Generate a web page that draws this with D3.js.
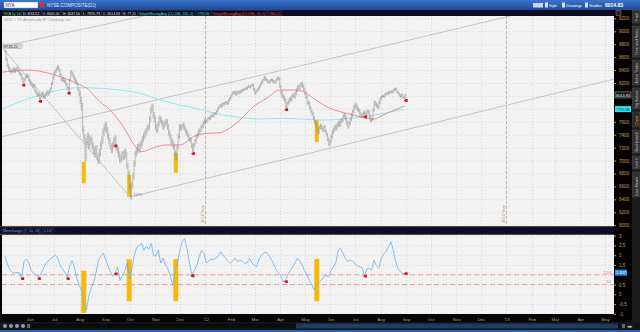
<!DOCTYPE html>
<html>
<head>
<meta charset="utf-8">
<script src="https://cdn.jsdelivr.net/npm/d3@7"></script>
<style>
  body { margin: 0; background: #000; }
  svg { display: block; font-family: "Liberation Sans", Arial, sans-serif; }
</style>
</head>
<body>
<svg id="chart" width="640" height="332"></svg>
<script>
// ---------------- data ----------------
var firstDay = new Date(2011, 4, 2);
var lastDay = new Date(2012, 7, 31);

// daily closes of NYA, 2 May 2011 .. 31 Aug 2012
var closes = [
  8680,8560,8470,8430,8400,8370,8390,8420,8380,8405,
  8430,8390,8350,8330,8270,8215,8250,8290,8320,8300,
  8240,8200,8170,8140,8160,8090,8050,8010,8030,7965,
  8000,8040,7990,7985,8020,8060,8030,8070,8110,8190,
  8280,8350,8380,8420,8450,8400,8330,8250,8270,8240,
  8220,8180,8130,8090,8250,8370,8340,8300,8260,8230,
  8190,8100,8020,7930,7830,7480,7350,7050,7290,7370,
  7240,7330,7300,7220,7160,7110,7180,7060,7010,7120,
  7230,7320,7440,7500,7550,7470,7380,7300,7220,7165,
  7240,7300,7340,7200,7160,7090,7010,7040,7100,7060,
  7130,7090,6920,6800,6600,6450,6620,6760,6950,7110,
  7150,7210,7170,7240,7270,7330,7380,7420,7460,7500,
  7520,7640,7780,7830,7700,7640,7520,7470,7560,7650,
  7620,7580,7520,7560,7590,7600,7520,7430,7370,7300,
  7260,7210,7120,7050,7200,7380,7520,7500,7530,7550,
  7500,7460,7420,7380,7330,7310,7230,7165,7240,7300,
  7370,7400,7440,7470,7510,7540,7580,7620,7600,7630,
  7660,7650,7680,7700,7690,7730,7720,7760,7800,7830,
  7860,7840,7880,7870,7890,7900,7880,7930,7960,8000,
  8030,8060,8050,8020,8060,8040,8070,8060,8080,8090,
  8100,8120,8110,8140,8150,8130,8160,8170,8100,8040,
  8070,8090,8120,8150,8190,8220,8250,8290,8260,8240,
  8220,8210,8240,8250,8230,8210,8220,8250,8280,8260,
  8140,8050,8000,7970,7940,7840,7880,7910,7950,7940,
  7990,8010,7990,8040,8090,8140,8120,8170,8190,8150,
  8100,8040,7980,7900,7880,7820,7760,7720,7660,7600,
  7560,7480,7440,7510,7540,7500,7470,7520,7450,7400,
  7330,7250,7300,7370,7440,7480,7520,7500,7550,7580,
  7560,7610,7630,7680,7700,7650,7580,7530,7580,7640,
  7700,7760,7820,7860,7830,7790,7770,7720,7690,7700,
  7740,7730,7700,7760,7750,7680,7620,7640,7780,7900,
  7870,7850,7830,7900,7950,7990,8000,7990,8020,8040,
  8030,8060,8050,8070,8060,8090,8110,8100,8060,8040,
  8010,7990,8020,7980,7970,8014.83
];
var firstHigh = 8718.25;
// typical intraday wick per month, May 2011 .. Aug 2012
var monthWick = [25, 25, 25, 60, 50, 50, 45, 35, 20, 18, 20, 30, 30, 35, 30, 18];

// moving averages, [bar index, value]
var sma200 = [[-4, 7782], [12.6, 7911], [29.4, 8014], [46.1, 8091], [62.8, 8127], [79.6, 8117],
  [96.3, 8091], [113.1, 8040], [129.8, 7937], [146.5, 7860], [163.3, 7792], [180, 7712],
  [196.7, 7669], [213.5, 7643], [230.2, 7653], [246.9, 7643], [263.7, 7627], [280.4, 7638],
  [297.2, 7669], [313.9, 7720], [334.2, 7795.86]];
var sma50 = [[-4, 8364], [21, 8400], [29.4, 8380], [46.1, 8297], [60.1, 8194], [68.5, 8117],
  [79.6, 7911], [88, 7782], [99.1, 7524], [107.4, 7266], [114.5, 7137], [127, 7215],
  [135.4, 7241], [146.5, 7241], [157.7, 7369], [168.9, 7421], [180, 7430], [185.6, 7473],
  [196.7, 7627], [207.9, 7833], [219.1, 7963], [230.2, 8091], [241.3, 8091], [249.7, 8065],
  [258.1, 7963], [269.3, 7833], [280.4, 7756], [291.6, 7705], [302.8, 7653], [308.3, 7640],
  [316.7, 7705], [325, 7772], [334.2, 7843]];

// momentum gauge, one value every second bar
var momentum = [
  1.95,1.55,1.25,1.12,1.08,1.12,1.10,0.85,1.70,1.80,
  1.60,1.20,1.08,1.00,0.85,1.05,1.30,1.55,1.70,1.82,
  1.90,2.02,1.85,1.50,1.30,1.12,0.85,1.45,1.72,1.40,
  0.80,0.45,0.20,-0.45,-0.80,-0.10,0.30,0.60,1.10,1.75,
  1.95,2.10,1.80,1.45,1.15,0.92,1.10,1.40,0.70,0.95,
  1.20,1.60,0.80,1.35,2.00,2.40,2.50,2.60,2.25,2.45,
  2.30,2.60,2.00,1.95,2.25,1.60,1.85,1.50,1.30,0.95,
  0.45,1.20,1.65,2.25,2.70,2.85,2.30,1.60,1.00,1.20,
  1.45,1.90,2.25,2.10,1.60,1.70,1.80,1.75,1.85,1.95,
  2.17,2.00,1.85,1.70,1.58,1.70,1.85,1.66,1.75,1.70,
  1.60,1.60,1.84,1.60,1.50,1.40,1.80,2.00,2.10,2.17,
  2.00,1.80,1.58,1.30,1.10,1.00,0.64,0.70,0.98,1.20,
  1.40,1.60,1.84,1.70,1.50,1.20,0.98,0.73,0.50,0.22,
  0.45,0.60,0.73,0.90,0.95,0.90,1.20,1.40,1.60,2.25,
  2.35,2.10,1.84,1.66,1.75,1.70,1.58,1.45,1.41,1.35,
  0.98,1.30,1.33,1.24,1.75,1.45,1.33,1.84,2.05,2.20,
  2.43,2.68,2.26,1.66,1.30,1.15,1.05,1.107
];
var momLevels = [1.0, 0.5];
var momLevelText = ["1.00", ".50"];

// drawings: [bar index, value, bar index, value]
var trendLines = [
  [-1, 8718, 105, 6430],
  [0, 8772, 116, 9236],
  [-4, 7364, 423, 9236],
  [104.7, 6437, 510, 8262]
];

var signalIdx = [15, 29, 53, 92, 157, 235, 301, 335];
var eventIdx = [66, 104, 143, 261];
var eventPxTop = [6980, 6780, 7120, 7630];
var eventPxBot = [6650, 6440, 6810, 7290];
var eventMomTop = [1.2, 1.8, 1.8, 1.8];
var eventMomBot = [-0.95, -0.35, -0.35, -0.35];

var priceTicks = d3.range(6000, 9201, 200);
var momTicks = [3, 2.5, 2, 1.5, 1, 0.5, 0, -0.5, -1];
var sideTabs = ["Trade", "Time and Sales", "Active Trader", "Big Buttons", "Chart", "Dashboard", "Level II", "Live News"];

// ---------------- layout ----------------
var plotL = 2, plotR = 614;
var mainT = 16, mainB = 226, lowT = 235, lowB = 314;
var gold = "#c39a5a";

var svg = d3.select("#chart");

var x = d3.scaleTime()
  .domain([new Date(2011, 3, 26), new Date(2013, 4, 12)])
  .range([0, plotR]);
var xi = d3.scaleLinear().domain([0, closes.length - 1]).range([x(firstDay), x(lastDay)]);
var xm = d3.scaleLinear().domain([0, momentum.length - 1]).range([x(firstDay), x(lastDay)]);
var yP = d3.scaleLinear().domain([5988, 9236]).range([mainB, mainT]);
var yM = d3.scaleLinear().domain([-1.005, 3.03]).range([lowB, lowT]);

var months = d3.timeMonth.range(new Date(2011, 5, 1), new Date(2013, 4, 2));

// shrink a label's font until it fits its box
function fitText(sel, maxW, size) {
  sel.attr("font-size", size);
  var w = sel.node().getComputedTextLength();
  if (w > maxW) sel.attr("font-size", size * maxW / w);
  return sel;
}

// window chrome
var topGrad = svg.append("defs").append("linearGradient")
  .attr("id", "topgrad").attr("x1", "0%").attr("x2", "0%").attr("y1", "0%").attr("y2", "100%");
topGrad.append("stop").attr("offset", "0%").style("stop-color", "#3a74cc");
topGrad.append("stop").attr("offset", "100%").style("stop-color", "#1d4a99");

svg.append("rect").attr("width", 640).attr("height", 332).attr("fill", "#050505");
svg.append("rect").attr("width", 640).attr("height", 10).attr("fill", "url(#topgrad)");
svg.append("rect").attr("x", 0).attr("y", 330).attr("width", 640).attr("height", 2).attr("fill", "#2a62b8");

svg.append("rect").attr("x", 4).attr("y", 2).attr("width", 34).attr("height", 6).attr("fill", "#fff").attr("stroke", "#888").attr("stroke-width", 0.5);
svg.append("text").attr("x", 5.5).attr("y", 6.8).attr("font-size", 4.5).attr("fill", "#222").text("NYA");
svg.append("rect").attr("x", 40).attr("y", 2.5).attr("width", 4).attr("height", 5).attr("fill", "#d33");
svg.append("text").attr("x", 47).attr("y", 6.8).attr("font-size", 4.5).attr("fill", "#dfe8ff").text("NYSE COMPOSITE(DJ)");

var topBtns = [[545, 13, "Style"], [562, 21, "Drawings"], [585, 18, "Studies"]];
svg.append("rect").attr("x", 533).attr("y", 3).attr("width", 10).attr("height", 4.5).attr("fill", "#c9d4e6");
topBtns.forEach(function (b) {
  svg.append("rect").attr("x", b[0]).attr("y", 2.5).attr("width", 3).attr("height", 5).attr("fill", "#dde");
  fitText(svg.append("text").attr("x", b[0] + 4).attr("y", 6.6).attr("fill", "#fff").text(b[2]), b[1] - 5, 4);
});
fitText(svg.append("text").attr("x", 605).attr("y", 7).attr("font-weight", "bold").attr("fill", "#fff").text("8014.83"), 20, 5);

// header row with study values
svg.append("rect").attr("x", 0).attr("y", 10).attr("width", 614).attr("height", 6).attr("fill", "#0b0b24");
var hdr = [
  [3, 19, "NYA 1y 1d", "#6ef06e"], [22, 19, "D: 8/31/12", "#eee"], [41.5, 19.5, "O: 8001.00", "#eee"],
  [62, 19.5, "H: 8047.56", "#eee"], [82, 19.5, "L: 7970.79", "#eee"], [102, 19.5, "C: 8014.83", "#eee"],
  [122, 15.5, "R: 77.21", "#eee"], [138, 57, "SimpleMovingAvg (CLOSE, 200, 0)", "#35e4ea"],
  [196, 15, "7795.86", "#35e4ea"], [212, 55, "SimpleMovingAvg (CLOSE, 50, 0)", "#ff4646"],
  [268, 14, "7960.11", "#ff4646"]
];
hdr.forEach(function (h) {
  svg.append("rect").attr("x", h[0]).attr("y", 10.6).attr("width", h[1]).attr("height", 5)
    .attr("fill", "#06061a").attr("stroke", "#555").attr("stroke-width", 0.4);
  fitText(svg.append("text").attr("x", h[0] + 1).attr("y", 14.5).attr("fill", h[3]).text(h[2]), h[1] - 2.5, 4);
});

// ---------------- main price panel ----------------
var main = svg.append("g");
main.append("clipPath").attr("id", "clipMain").append("rect")
  .attr("x", plotL).attr("y", mainT).attr("width", plotR - plotL).attr("height", mainB - mainT);
main.append("rect").attr("x", plotL).attr("y", mainT).attr("width", plotR - plotL).attr("height", mainB - mainT)
  .attr("fill", "#f2f2f2");

var mp = main.append("g").attr("clip-path", "url(#clipMain)");

mp.selectAll(".hg").data(priceTicks).enter().append("line")
  .attr("x1", plotL).attr("x2", plotR).attr("y1", function (d) { return yP(d) + 0.5; }).attr("y2", function (d) { return yP(d) + 0.5; })
  .attr("stroke", "#c8c8c8").attr("stroke-width", 0.6).attr("stroke-dasharray", "1,2");
mp.selectAll(".vg").data(months).enter().append("line")
  .attr("y1", mainT).attr("y2", mainB).attr("x1", function (d) { return Math.round(x(d)) + 0.5; }).attr("x2", function (d) { return Math.round(x(d)) + 0.5; })
  .attr("stroke", "#c8c8c8").attr("stroke-width", 0.6).attr("stroke-dasharray", "1,2");

// year separators
var years = [new Date(2012, 0, 1), new Date(2013, 0, 1)];
mp.selectAll(".yr").data(years).enter().append("line")
  .attr("y1", mainT).attr("y2", mainB).attr("x1", function (d) { return Math.round(x(d)) + 0.5; }).attr("x2", function (d) { return Math.round(x(d)) + 0.5; })
  .attr("stroke", "#c4a27c").attr("stroke-width", 0.8).attr("stroke-dasharray", "3,2");
mp.selectAll(".yrt").data(years).enter().append("text")
  .attr("transform", function (d) { return "translate(" + (x(d) - 1) + "," + (mainB - 3) + ") rotate(-90)"; })
  .attr("font-size", 4).attr("fill", "#9a8870").text(function (d) { return d.getFullYear() + " Year"; });

mp.append("text").attr("x", 4).attr("y", 20.5).attr("font-size", 3.8).attr("fill", "#999")
  .text("2012 \u00a9 TD Ameritrade IP Company, Inc.");

// trend lines
mp.selectAll(".tl").data(trendLines).enter().append("line")
  .attr("x1", function (d) { return xi(d[0]); }).attr("y1", function (d) { return yP(d[1]); })
  .attr("x2", function (d) { return xi(d[2]); }).attr("y2", function (d) { return yP(d[3]); })
  .attr("stroke", "#a4a4a4").attr("stroke-width", 0.6);

// event highlights
mp.selectAll(".ev").data(eventIdx).enter().append("rect")
  .attr("x", function (d) { return xi(d) - 2; }).attr("width", 4)
  .attr("y", function (d, i) { return yP(eventPxTop[i]); })
  .attr("height", function (d, i) { return yP(eventPxBot[i]) - yP(eventPxTop[i]); })
  .attr("fill", "#f6b80a");

// moving averages
var maLine = d3.line().x(function (d) { return xi(d[0]); }).y(function (d) { return yP(d[1]); }).curve(d3.curveMonotoneX);
mp.append("path").datum(sma200).attr("d", maLine).attr("fill", "none").attr("stroke", "#74e8ef").attr("stroke-width", 0.8);
mp.append("path").datum(sma50).attr("d", maLine).attr("fill", "none").attr("stroke", "#ee7070").attr("stroke-width", 0.8);

// price bars
function wickOf(i) {
  var d = x.invert(xi(i));
  var m = (d.getFullYear() - 2011) * 12 + d.getMonth() - 4;
  return monthWick[Math.max(0, Math.min(monthWick.length - 1, m))];
}
var bars = closes.map(function (c, i) {
  var prev = i === 0 ? firstHigh : closes[i - 1];
  var w = i === 0 ? 0 : wickOf(i);
  return { i: i, c: c, lo: Math.min(prev, c) - w, hi: Math.max(prev, c) + w };
});
mp.selectAll(".bar").data(bars).enter().append("line")
  .attr("x1", function (d) { return xi(d.i); }).attr("x2", function (d) { return xi(d.i); })
  .attr("y1", function (d) { return yP(d.hi); }).attr("y2", function (d) { return yP(d.lo); })
  .attr("stroke", "#8c8c8c").attr("stroke-width", 0.55);
mp.selectAll(".bc").data(bars).enter().append("line")
  .attr("x1", function (d) { return xi(d.i); }).attr("x2", function (d) { return xi(d.i) + 0.9; })
  .attr("y1", function (d) { return yP(d.c); }).attr("y2", function (d) { return yP(d.c); })
  .attr("stroke", "#808080").attr("stroke-width", 0.5);

// signal markers
var mark = "M-2.3,0 L-0.8,-1.4 L1.4,-1.4 L1.4,1.4 L-0.8,1.4 Z";
mp.selectAll(".sig").data(signalIdx).enter().append("path")
  .attr("d", mark).attr("fill", "#e01010")
  .attr("transform", function (d) { return "translate(" + (xi(d) + 1) + "," + (yP(bars[d].lo) + 1.5) + ")"; });

// high label
mp.append("rect").attr("x", 3).attr("y", 44).attr("width", 19).attr("height", 4.5).attr("fill", "#d8d8d8").attr("stroke", "#999").attr("stroke-width", 0.4);
fitText(mp.append("text").attr("x", 4).attr("y", 47.6).attr("fill", "#333").text(d3.format(".2f")(firstHigh)), 17, 3.8);
mp.append("text").attr("x", xi(105) + 3).attr("y", yP(6440) - 1).attr("font-size", 3.5).attr("fill", "#888").text("100%");

// right price axis (labels hidden where a value marker sits, as on the platform)
var lastClose = closes[closes.length - 1];
var lastSma = sma200[sma200.length - 1][1];
function clearOf(scale, vals) {
  return function (d) { return vals.every(function (v) { return Math.abs(scale(d) - scale(v)) > 4.5; }); };
}
svg.append("rect").attr("x", plotR).attr("y", 10).attr("width", 18).attr("height", 312).attr("fill", "#030303");
var pAxis = svg.append("g").attr("transform", "translate(" + plotR + ",0)")
  .call(d3.axisRight(yP).tickValues(priceTicks.filter(clearOf(yP, [lastClose, lastSma])))
    .tickSize(2).tickPadding(3).tickFormat(d3.format("d")));
pAxis.select(".domain").remove();
pAxis.selectAll("line").attr("stroke", gold);
pAxis.selectAll("text").attr("font-size", 4.6).attr("fill", gold);

// price markers on axis
svg.append("rect").attr("x", plotR + 1).attr("y", yP(lastClose) - 3).attr("width", 16).attr("height", 6)
  .attr("fill", "#111").attr("stroke", "#bbb").attr("stroke-width", 0.5);
fitText(svg.append("text").attr("x", plotR + 2).attr("y", yP(lastClose) + 1.6).attr("fill", "#fff")
  .text(d3.format(".2f")(lastClose)), 14, 4.2);
svg.append("rect").attr("x", plotR + 1).attr("y", yP(lastSma) - 3).attr("width", 16).attr("height", 6).attr("fill", "#2ee8f0");
fitText(svg.append("text").attr("x", plotR + 2).attr("y", yP(lastSma) + 1.6).attr("fill", "#04363a")
  .text(d3.format(".2f")(lastSma)), 14, 4.2);
svg.append("rect").attr("x", plotR + 2).attr("y", 10.5).attr("width", 5).attr("height", 5).attr("fill", "#222").attr("stroke", "#aaa").attr("stroke-width", 0.4);

// ---------------- lower momentum panel ----------------
svg.append("rect").attr("x", 0).attr("y", mainB).attr("width", plotR).attr("height", lowT - mainB).attr("fill", "#0b0b30");
svg.append("line").attr("x1", 0).attr("x2", plotR).attr("y1", mainB + 0.5).attr("y2", mainB + 0.5).attr("stroke", "#5a4a30");
svg.append("line").attr("x1", 0).attr("x2", plotR).attr("y1", lowT - 0.5).attr("y2", lowT - 0.5).attr("stroke", "#5a4a30");
var lhdr = [[2, 40, "MomGauge (7, 10, 18)"], [43, 11, "1.107"]];
lhdr.forEach(function (h) {
  svg.append("rect").attr("x", h[0]).attr("y", 228).attr("width", h[1]).attr("height", 5)
    .attr("fill", "#070722").attr("stroke", "#555").attr("stroke-width", 0.4);
  fitText(svg.append("text").attr("x", h[0] + 1).attr("y", 231.9).attr("fill", "#5fb0ff").text(h[2]), h[1] - 2.5, 4);
});

var low = svg.append("g");
low.append("clipPath").attr("id", "clipLow").append("rect")
  .attr("x", plotL).attr("y", lowT).attr("width", plotR - plotL).attr("height", lowB - lowT);
low.append("rect").attr("x", plotL).attr("y", lowT).attr("width", plotR - plotL).attr("height", lowB - lowT).attr("fill", "#f2f2f2");
var lp = low.append("g").attr("clip-path", "url(#clipLow)");

lp.selectAll(".hg").data(momTicks).enter().append("line")
  .attr("x1", plotL).attr("x2", plotR).attr("y1", function (d) { return yM(d) + 0.5; }).attr("y2", function (d) { return yM(d) + 0.5; })
  .attr("stroke", "#c8c8c8").attr("stroke-width", 0.6).attr("stroke-dasharray", "1,2");
lp.selectAll(".vg").data(months).enter().append("line")
  .attr("y1", lowT).attr("y2", lowB).attr("x1", function (d) { return Math.round(x(d)) + 0.5; }).attr("x2", function (d) { return Math.round(x(d)) + 0.5; })
  .attr("stroke", "#c8c8c8").attr("stroke-width", 0.6).attr("stroke-dasharray", "1,2");

lp.selectAll(".lvl").data(momLevels).enter().append("line")
  .attr("x1", plotL).attr("x2", plotR).attr("y1", function (d) { return yM(d); }).attr("y2", function (d) { return yM(d); })
  .attr("stroke", "#f08a8a").attr("stroke-width", 0.8).attr("stroke-dasharray", "5,3");
lp.selectAll(".lvt").data(momLevels).enter().append("text")
  .attr("x", plotR - 3).attr("y", function (d) { return yM(d) - 1.2; }).attr("text-anchor", "end")
  .attr("font-size", 3.8).attr("fill", "#e86a6a").text(function (d, i) { return momLevelText[i]; });

lp.selectAll(".ev").data(eventIdx).enter().append("rect")
  .attr("x", function (d) { return xi(d) - 2.5; }).attr("width", 5)
  .attr("y", function (d, i) { return yM(eventMomTop[i]); })
  .attr("height", function (d, i) { return yM(eventMomBot[i]) - yM(eventMomTop[i]); })
  .attr("fill", "#f6b80a");

lp.append("path").datum(momentum)
  .attr("d", d3.line().x(function (d, i) { return xm(i); }).y(function (d) { return yM(d); }))
  .attr("fill", "none").attr("stroke", "#62b2f2").attr("stroke-width", 0.8);

lp.selectAll(".sig").data(signalIdx).enter().append("path")
  .attr("d", mark).attr("fill", "#e01010")
  .attr("transform", function (d) {
    var j = Math.round(d * (momentum.length - 1) / (closes.length - 1));
    return "translate(" + (xm(j) + 1) + "," + (yM(momentum[j]) + 1) + ")";
  });

var lastMom = momentum[momentum.length - 1];
var mAxis = svg.append("g").attr("transform", "translate(" + plotR + ",0)")
  .call(d3.axisRight(yM).tickValues(momTicks.filter(clearOf(yM, [lastMom])))
    .tickSize(2).tickPadding(3).tickFormat(function (d) { return String(d); }));
mAxis.select(".domain").remove();
mAxis.selectAll("line").attr("stroke", gold);
mAxis.selectAll("text").attr("font-size", 4.6).attr("fill", gold);

svg.append("rect").attr("x", plotR + 1).attr("y", yM(lastMom) - 3).attr("width", 12).attr("height", 6).attr("fill", "#2d8fe6");
fitText(svg.append("text").attr("x", plotR + 2).attr("y", yM(lastMom) + 1.6).attr("fill", "#fff")
  .text(d3.format(".3f")(lastMom)), 10, 4.2);

// ---------------- time axis ----------------
var tAxis = svg.append("g").attr("transform", "translate(0," + lowB + ")")
  .call(d3.axisBottom(x).tickValues(months).tickSize(0).tickPadding(4)
    .tickFormat(function (d) { return d.getMonth() === 0 ? d3.timeFormat("'%y")(d) : d3.timeFormat("%b")(d); }));
tAxis.select(".domain").remove();
tAxis.selectAll("text").attr("font-size", 4.4).attr("fill", gold);

// scroll bar and tools
svg.append("rect").attr("x", 0).attr("y", 322).attr("width", 640).attr("height", 8).attr("fill", "#161616");
svg.append("rect").attr("x", 32).attr("y", 323.5).attr("width", 588).attr("height", 5).attr("fill", "#0c0c0c");
svg.append("rect").attr("x", 296).attr("y", 323.5).attr("width", 322).attr("height", 5).attr("fill", "#1f3d62");
[3, 9, 15, 21].forEach(function (t) {
  svg.append("circle").attr("cx", t + 2).attr("cy", 326).attr("r", 2).attr("fill", "#8fa0b8");
});
svg.append("rect").attr("x", 27).attr("y", 324).attr("width", 3).attr("height", 4).attr("fill", "#666");
svg.append("rect").attr("x", 622).attr("y", 324).attr("width", 3).attr("height", 4).attr("fill", "#666");
svg.append("text").attr("x", 627).attr("y", 328).attr("font-size", 4.5).attr("fill", "#ccc").text("\u25c2\u25b8");

// side tabs
svg.append("rect").attr("x", 632).attr("y", 10).attr("width", 8).attr("height", 312).attr("fill", "#1b1b1b");
var tabY = [[10, 24], [26, 58], [60, 86], [88, 110], [112, 128], [130, 154], [156, 170], [172, 198]];
sideTabs.forEach(function (t, i) {
  var a = tabY[i][0], b = tabY[i][1];
  svg.append("rect").attr("x", 632.5).attr("y", a).attr("width", 7).attr("height", b - a - 1)
    .attr("fill", t === "Chart" ? "#2a2a2a" : "#333").attr("stroke", "#555").attr("stroke-width", 0.4);
  fitText(svg.append("text").attr("transform", "translate(637.8," + (b - 2.5) + ") rotate(-90)")
    .attr("fill", t === "Chart" ? "#f0b020" : "#cfcfcf").text(t), b - a - 5, 4);
});
</script>
</body>
</html>
